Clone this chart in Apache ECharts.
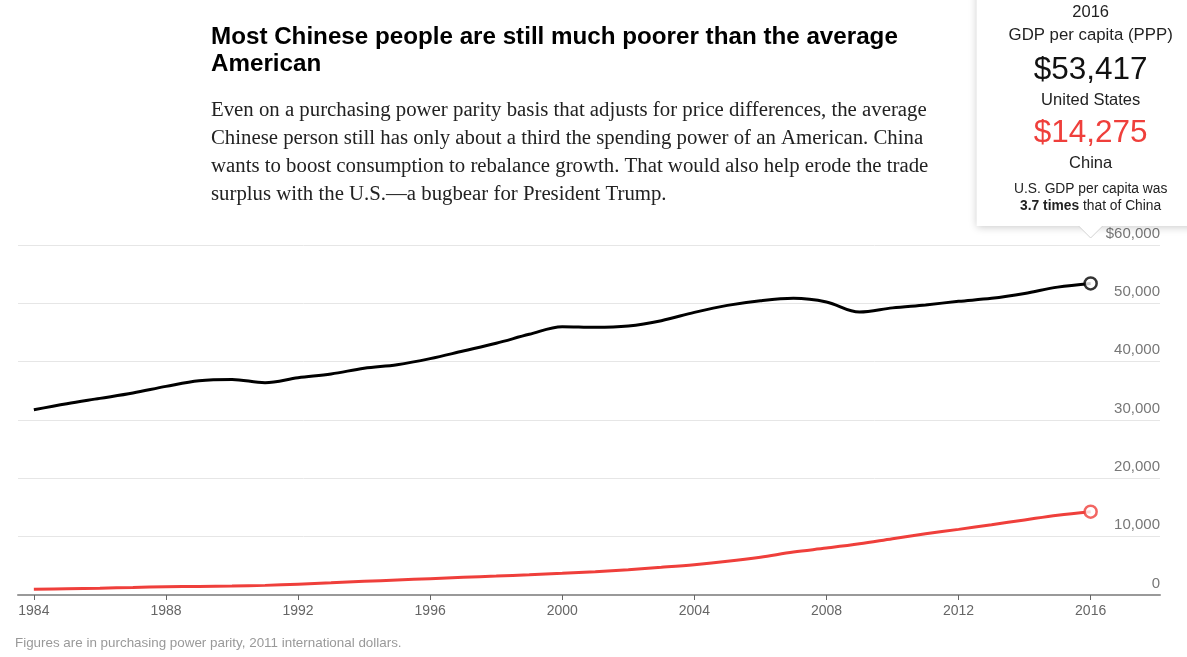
<!DOCTYPE html>
<html>
<head>
<meta charset="utf-8">
<script src="https://cdn.jsdelivr.net/npm/echarts@6/dist/echarts.min.js"></script>
<style>
html,body{margin:0;padding:0;background:#fff;}
#c{width:1187px;height:657px;}
</style>
</head>
<body>
<div id="c"></div>
<script>
const years = [1984,1985,1986,1987,1988,1989,1990,1991,1992,1993,1994,1995,1996,1997,1998,1999,2000,2001,2002,2003,2004,2005,2006,2007,2008,2009,2010,2011,2012,2013,2014,2015,2016];
const usGdp = [31770,32800,33710,34630,35760,36740,36960,36400,37250,37890,38870,39490,40520,41830,43150,44690,45990,45880,46120,47030,48450,49650,50450,50860,50240,48500,49220,49730,50340,50860,51700,52780,53417];
const chinaGdp = [980,1080,1170,1290,1420,1470,1530,1650,1860,2090,2340,2570,2800,3030,3240,3460,3710,4000,4340,4750,5200,5770,6480,7370,8040,8770,9650,10500,11250,12050,12870,13680,14275];
const xTickYears = [1984,1988,1992,1996,2000,2004,2008,2012,2016];
const yMax = 60000, yStep = 10000;

const titleText = 'Most Chinese people are still much poorer than the average\nAmerican';
const subText = 'Even on a purchasing power parity basis that adjusts for price differences, the average\nChinese person still has only about a third the spending power of an American. China\nwants to boost consumption to rebalance growth. That would also help erode the trade\nsurplus with the U.S.\u2014a bugbear for President Trump.';
const noteText = 'Figures are in purchasing power parity, 2011 international dollars.';

const US_COLOR = '#000000';
const CN_COLOR = '#ef3f3b';
const SANS = '"Liberation Sans", Arial, Helvetica, sans-serif';
const SERIF = '"Liberation Serif", "Times New Roman", serif';

const usData = years.map((y, i) => [y, usGdp[i]]);
const cnData = years.map((y, i) => [y, chinaGdp[i]]);
const last = years.length - 1;

const fmt = v => v.toLocaleString('en-US');

const chart = echarts.init(document.getElementById('c'), null, {renderer: 'canvas'});

const option = {
  animation: false,
  backgroundColor: '#fff',
  title: [
    {
      text: titleText,
      left: 211, top: 24, padding: 0,
      textStyle: {fontFamily: SANS, fontSize: 24.2, fontWeight: 'bold', color: '#000', lineHeight: 27}
    },
    {
      text: subText,
      left: 211, top: 97, padding: 0,
      textStyle: {fontFamily: SERIF, fontSize: 20.8, fontWeight: 'normal', color: '#222', lineHeight: 28}
    },
    {
      text: noteText,
      left: 15, top: 635, padding: 0,
      textStyle: {fontFamily: SANS, fontSize: 13.4, fontWeight: 'normal', color: '#999', lineHeight: 16}
    }
  ],
  grid: {left: 18, right: 27, top: 245, bottom: 62, containLabel: false},
  xAxis: {
    type: 'value',
    min: 1983.52,
    max: 2018.1,
    axisLine: {show: true, lineStyle: {color: '#999', width: 2}},
    axisTick: {show: true, length: 5, lineStyle: {color: '#666', width: 1}, customValues: xTickYears},
    axisLabel: {
      show: true, customValues: xTickYears, margin: 9,
      fontFamily: SANS, fontSize: 14, color: '#666',
      formatter: v => String(v)
    },
    splitLine: {show: false}
  },
  yAxis: {
    type: 'value',
    position: 'right',
    min: 0, max: yMax, interval: yStep,
    axisLine: {show: false},
    axisTick: {show: false},
    axisLabel: {
      inside: true, margin: 0, align: 'right', verticalAlign: 'bottom',
      padding: [0, 0, 4, 0],
      fontFamily: SANS, fontSize: 15, color: '#777',
      formatter: v => (v === yMax ? '$' : '') + fmt(v)
    },
    splitLine: {show: true, lineStyle: {color: '#e6e6e6', width: 1}}
  },
  series: [
    {
      name: 'United States', type: 'line', data: usData,
      smooth: 0.35, symbol: 'none',
      lineStyle: {color: US_COLOR, width: 3},
      z: 3
    },
    {
      name: 'China', type: 'line', data: cnData,
      smooth: 0.35, symbol: 'none',
      lineStyle: {color: CN_COLOR, width: 3},
      z: 3
    },
    {
      type: 'scatter', data: [usData[last]],
      symbol: 'circle', symbolSize: 12,
      itemStyle: {color: '#fff', borderColor: US_COLOR, borderWidth: 2.5},
      z: 5
    },
    {
      type: 'scatter', data: [cnData[last]],
      symbol: 'circle', symbolSize: 12,
      itemStyle: {color: '#fff', borderColor: CN_COLOR, borderWidth: 2.5},
      z: 5
    }
  ]
};

chart.setOption(option);

// Annotation box anchored at the last year
const cx = chart.convertToPixel({gridIndex: 0}, [years[last], 0])[0];
const boxW = 228, boxBottom = 226;
const ratio = (usGdp[last] / chinaGdp[last]).toFixed(1);

function txt(text, y, size, color, weight) {
  return {
    type: 'text', z: 20,
    style: {
      text: text, x: cx, y: y, align: 'center', verticalAlign: 'middle',
      fontFamily: SANS, fontSize: size, fontWeight: weight || 'normal', fill: color
    }
  };
}

chart.setOption({
  graphic: [
    {
      type: 'rect', z: 10,
      shape: {x: cx - boxW / 2, y: -10, width: boxW, height: boxBottom + 10},
      style: {fill: '#fff', shadowBlur: 8, shadowColor: 'rgba(0,0,0,0.22)', shadowOffsetY: 1}
    },
    {
      type: 'polyline', z: 11,
      shape: {points: [[cx - 12, boxBottom], [cx, boxBottom + 12], [cx + 12, boxBottom]]},
      style: {stroke: '#d4d4d4', lineWidth: 1, fill: '#fff'}
    },
    {
      type: 'rect', z: 12,
      shape: {x: cx - 14, y: boxBottom - 4, width: 28, height: 4},
      style: {fill: '#fff'}
    },
    txt(String(years[last]), 12, 16.5, '#222'),
    txt('GDP per capita (PPP)', 35, 16.8, '#222'),
    txt('$' + fmt(usGdp[last]), 70, 31.5, '#111'),
    txt('United States', 100, 16.5, '#222'),
    txt('$' + fmt(chinaGdp[last]), 133, 31.5, CN_COLOR),
    txt('China', 163, 16.5, '#222'),
    txt('U.S. GDP per capita was', 189, 13.8, '#222'),
    {
      type: 'text', z: 20,
      style: {
        text: '{b|' + ratio + ' times} that of China',
        x: cx, y: 206, align: 'center', verticalAlign: 'middle',
        fontFamily: SANS, fontSize: 13.8, fill: '#222',
        rich: {b: {fontFamily: SANS, fontSize: 13.8, fontWeight: 'bold', fill: '#222'}}
      }
    }
  ]
});
</script>
</body>
</html>
